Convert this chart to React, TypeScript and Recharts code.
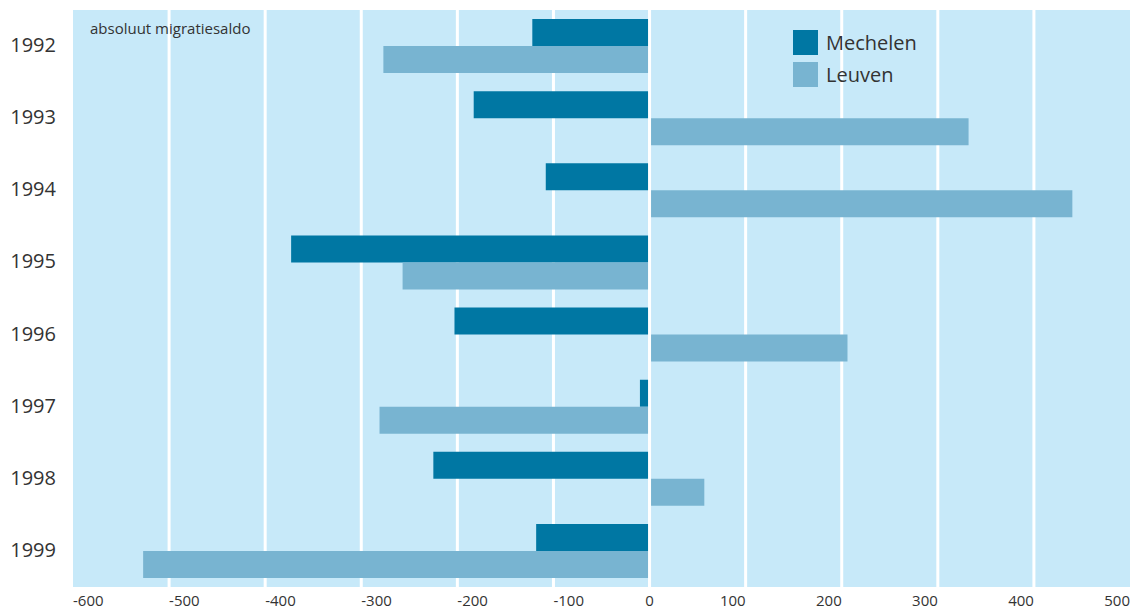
import React from 'react';
import { BarChart, Bar, XAxis, YAxis, CartesianGrid, ReferenceLine } from 'recharts';

const years = ['1992', '1993', '1994', '1995', '1996', '1997', '1998', '1999'];
const mechelen = [-122, -183, -108, -373, -203, -10, -225, -118];
const leuven = [-277, 332, 440, -257, 206, -281, 57, -527];
const xTicks = [-600, -500, -400, -300, -200, -100, 0, 100, 200, 300, 400, 500];

const data = years.map((y, i) => ({ year: y, Mechelen: mechelen[i], Leuven: leuven[i] }));

const C_MECH = '#0077A3';
const C_LEUV = '#78B4D1';
const BG = '#C7E9F9';
const FONT = '"Open Sans", "Noto Sans", sans-serif';

const XTick = (props: any) => {
  const { x, payload } = props;
  const v = payload.value;
  const anchor = v < 0 ? 'start' : v > 0 ? 'end' : 'middle';
  return (
    <text x={x} y={606} textAnchor={anchor} fontSize={15} fill="#333" fontFamily={FONT}>
      {v}
    </text>
  );
};

const YTick = (props: any) => {
  const { y, payload } = props;
  return (
    <text x={56} y={y} dy={6} textAnchor="end" fontSize={20} fill="#333" fontFamily={FONT}>
      {payload.value}
    </text>
  );
};

export default function App() {
  return (
    <div style={{ position: 'absolute', left: 0, top: 0, width: 1132, height: 611, overflow: 'hidden' }}>
      <BarChart
        width={1132}
        height={611}
        data={data}
        layout="vertical"
        margin={{ top: 10, right: 2, bottom: 0, left: 0 }}
        barCategoryGap="12.5%"
        barGap={0}
      >
        <CartesianGrid
          horizontal={false}
          fill={BG}
          fillOpacity={1}
          stroke="#ffffff"
          strokeWidth={3}
          verticalCoordinatesGenerator={({ offset }: any) =>
            xTicks
              .filter((t) => t !== -600 && t !== 500)
              .map((t) => offset.left + ((t + 600) / 1100) * offset.width)
          }
        />
        <XAxis
          type="number"
          domain={[-600, 500]}
          ticks={xTicks}
          axisLine={false}
          tickLine={false}
          height={24}
          tick={<XTick />}
          interval={0}
        />
        <YAxis
          type="category"
          dataKey="year"
          width={73}
          axisLine={false}
          tickLine={false}
          tick={<YTick />}
          interval={0}
        />
        <Bar dataKey="Mechelen" fill={C_MECH} isAnimationActive={false} />
        <Bar dataKey="Leuven" fill={C_LEUV} isAnimationActive={false} />
        <ReferenceLine x={0} stroke="#ffffff" strokeWidth={3} />
      </BarChart>
      <div
        style={{
          position: 'absolute',
          left: 90,
          top: 18,
          fontFamily: FONT,
          fontSize: 15,
          color: '#333',
          lineHeight: '20px',
        }}
      >
        absoluut migratiesaldo
      </div>
      <div
        style={{
          position: 'absolute',
          left: 793,
          top: 26,
          fontFamily: FONT,
          fontSize: 20,
          color: '#333',
        }}
      >
        {[
          ['Mechelen', C_MECH],
          ['Leuven', C_LEUV],
        ].map(([name, color]) => (
          <div key={name} style={{ display: 'flex', alignItems: 'center', height: 32 }}>
            <div style={{ width: 25, height: 25, background: color, marginRight: 8 }} />
            <span>{name}</span>
          </div>
        ))}
      </div>
    </div>
  );
}
